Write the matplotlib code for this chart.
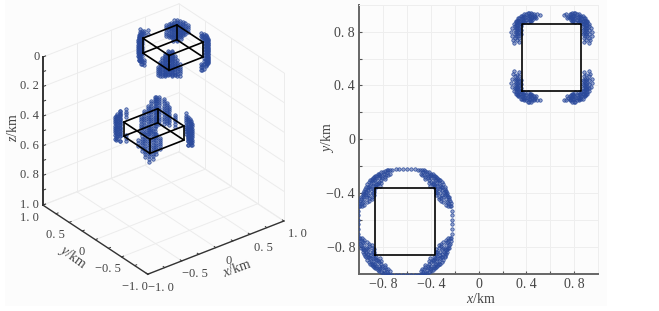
import matplotlib
matplotlib.use("Agg")
import matplotlib.pyplot as plt
from matplotlib.patches import Rectangle
from mpl_toolkits.mplot3d import proj3d

plt.rcParams["font.family"] = ["Liberation Serif", "DejaVu Serif"]
plt.rcParams["mathtext.fontset"] = "custom"
plt.rcParams["mathtext.rm"] = "Liberation Serif"
plt.rcParams["mathtext.it"] = "Liberation Serif:italic"

W, H = 659, 311
BLUE = "#2b4a9b"
FILL = (0.17, 0.29, 0.61, 0.5)
TXT = "#444444"
GRID = "#ececec"

# boxes: x/y ranges in km, z ranges from the left panel
upper_xy = [0.36, 0.86]
lower_xy = [-0.865, -0.365]
upper_z = [0.085, 0.185]
lower_z = [0.145, 0.24]

# left panel clusters, columns of (x, y, [z...])
upper_back = [
    (0.95, 0.77, [0.08, 0.095, 0.11, 0.13]),
    (0.94, 0.80, [0.075, 0.09, 0.105, 0.12, 0.135, 0.15]),
    (0.93, 0.83, [0.07, 0.085, 0.10, 0.115, 0.13, 0.145, 0.16]),
    (0.90, 0.83, [0.09, 0.105, 0.12, 0.135, 0.15, 0.165, 0.18]),
    (0.92, 0.87, [0.07, 0.085, 0.10, 0.115, 0.13, 0.145, 0.16, 0.175]),
    (0.90, 0.90, [0.07, 0.085, 0.10, 0.115, 0.13, 0.145, 0.16, 0.175, 0.19, 0.205]),
    (0.88, 0.88, [0.08, 0.095, 0.11, 0.125, 0.14, 0.155, 0.17, 0.185, 0.20]),
    (0.87, 0.92, [0.07, 0.085, 0.10, 0.115, 0.13, 0.145, 0.16, 0.175, 0.19]),
    (0.83, 0.90, [0.08, 0.095, 0.11, 0.125, 0.14, 0.155, 0.17, 0.185, 0.20]),
    (0.83, 0.93, [0.08, 0.095, 0.11, 0.125, 0.14, 0.155, 0.17, 0.18]),
    (0.80, 0.94, [0.085, 0.10, 0.115, 0.13, 0.145, 0.16, 0.175]),
    (0.77, 0.95, [0.09, 0.105, 0.12, 0.135, 0.15, 0.165]),
]
upper_front = [
    (0.27, 0.45, [0.165, 0.18, 0.195, 0.21, 0.22]),
    (0.28, 0.42, [0.13, 0.145, 0.16, 0.175, 0.19, 0.205, 0.22]),
    (0.29, 0.40, [0.10, 0.115, 0.13, 0.145, 0.16, 0.175, 0.19, 0.205, 0.22]),
    (0.30, 0.36, [0.08, 0.095, 0.11, 0.125, 0.14, 0.155, 0.17, 0.185, 0.20, 0.215]),
    (0.32, 0.38, [0.07, 0.085, 0.10, 0.115, 0.13, 0.145, 0.16, 0.175, 0.19, 0.205, 0.215]),
    (0.32, 0.32, [0.04, 0.055, 0.07, 0.085, 0.10, 0.115, 0.13, 0.145, 0.16, 0.175, 0.19, 0.20]),
    (0.34, 0.34, [0.05, 0.065, 0.08, 0.095, 0.11, 0.125, 0.14, 0.155, 0.17, 0.185, 0.20]),
    (0.36, 0.30, [0.05, 0.065, 0.08, 0.095, 0.11, 0.125, 0.14, 0.155, 0.17, 0.185, 0.20]),
    (0.38, 0.32, [0.05, 0.065, 0.08, 0.095, 0.11, 0.125, 0.14, 0.155, 0.17, 0.185, 0.205, 0.22]),
    (0.40, 0.29, [0.08, 0.095, 0.11, 0.125, 0.14, 0.155, 0.17, 0.185, 0.20, 0.21]),
    (0.42, 0.28, [0.11, 0.125, 0.14, 0.155, 0.17, 0.185, 0.20, 0.215]),
    (0.45, 0.27, [0.14, 0.155, 0.17, 0.185, 0.20, 0.22]),
]
upper_left = [
    (0.32, 0.90, [0.10, 0.115, 0.13, 0.145, 0.16, 0.175, 0.19, 0.205]),
    (0.34, 0.90, [0.08, 0.095, 0.11, 0.125, 0.14, 0.155, 0.17, 0.185, 0.20, 0.215, 0.24]),
    (0.30, 0.85, [0.05, 0.065, 0.08, 0.095, 0.11, 0.125, 0.14, 0.155, 0.17, 0.185, 0.20, 0.22]),
    (0.28, 0.81, [0.035, 0.05, 0.065, 0.08, 0.095, 0.11, 0.125, 0.14, 0.155, 0.17, 0.185, 0.20, 0.215]),
    (0.36, 0.92, [0.04, 0.055, 0.07, 0.085, 0.10, 0.115, 0.13, 0.145, 0.16, 0.175, 0.19, 0.205, 0.22, 0.235, 0.25]),
    (0.40, 0.93, [0.06, 0.075, 0.09, 0.105, 0.12, 0.135, 0.15, 0.165, 0.18, 0.195, 0.21, 0.23, 0.26, 0.285]),
    (0.27, 0.77, [0.01, 0.025, 0.04, 0.06, 0.08, 0.10, 0.15, 0.19, 0.22]),
    (0.45, 0.95, [0.07, 0.085, 0.10, 0.27, 0.285, 0.30]),
    (0.50, 0.94, [0.07, 0.10]),
]
upper_right = [
    (0.90, 0.32, [0.07, 0.085, 0.10, 0.115, 0.13, 0.145, 0.16, 0.175, 0.19, 0.205, 0.215]),
    (0.92, 0.36, [0.06, 0.075, 0.09, 0.105, 0.12, 0.135, 0.15, 0.165, 0.18, 0.195, 0.21, 0.23, 0.245]),
    (0.87, 0.28, [0.045, 0.06, 0.075, 0.09, 0.105, 0.12, 0.135, 0.15, 0.165, 0.18, 0.195, 0.21]),
    (0.94, 0.41, [0.065, 0.08, 0.095, 0.11, 0.125, 0.14, 0.155, 0.17, 0.185, 0.20, 0.215, 0.23, 0.245, 0.265]),
    (0.95, 0.45, [0.065, 0.08, 0.095, 0.11, 0.13, 0.15, 0.17, 0.19, 0.21, 0.23, 0.25, 0.27, 0.30]),
    (0.83, 0.27, [0.02, 0.035, 0.05, 0.07, 0.09, 0.18, 0.20, 0.22]),
    (0.78, 0.27, [0.0, 0.015, 0.03, 0.205, 0.22, 0.235]),
    (0.93, 0.50, [0.065, 0.09, 0.28, 0.30, 0.32]),
]
lower_back = [
    (-0.25, -0.25, [0.11, 0.125, 0.14, 0.155, 0.17, 0.185, 0.20, 0.215, 0.23, 0.245, 0.26, 0.275, 0.295]),
    (-0.28, -0.23, [0.11, 0.125, 0.14, 0.155, 0.17, 0.185, 0.20, 0.215, 0.23, 0.245, 0.26, 0.275, 0.29, 0.31]),
    (-0.30, -0.22, [0.11, 0.125, 0.14, 0.155, 0.17, 0.185, 0.20, 0.215, 0.23, 0.245, 0.26, 0.275, 0.29, 0.305, 0.32, 0.34, 0.36]),
    (-0.22, -0.30, [0.12, 0.135, 0.15, 0.165, 0.18, 0.195, 0.21, 0.225, 0.24, 0.255, 0.27, 0.29]),
    (-0.35, -0.22, [0.13, 0.145, 0.16, 0.175, 0.19, 0.205, 0.22, 0.235, 0.25, 0.265, 0.28, 0.295, 0.31, 0.325, 0.34]),
    (-0.40, -0.23, [0.15, 0.165, 0.18, 0.195, 0.21, 0.225, 0.24, 0.255, 0.27, 0.285, 0.30, 0.315, 0.34]),
    (-0.45, -0.22, [0.18, 0.195, 0.21, 0.225, 0.24, 0.255, 0.27, 0.285, 0.30, 0.33]),
    (-0.50, -0.22, [0.21, 0.225, 0.24, 0.255, 0.27, 0.285, 0.30, 0.32]),
    (-0.22, -0.35, [0.135, 0.15, 0.165, 0.18, 0.195, 0.21, 0.225, 0.24, 0.255, 0.27]),
    (-0.22, -0.40, [0.15, 0.165, 0.18, 0.195, 0.21, 0.225, 0.24, 0.255, 0.27]),
    (-0.22, -0.50, [0.18, 0.195, 0.21, 0.225, 0.24, 0.26]),
]
lower_front = [
    (-0.95, -0.95, [0.045, 0.06, 0.075, 0.09, 0.105, 0.12, 0.135, 0.15, 0.165, 0.18, 0.195, 0.21, 0.225, 0.24, 0.265]),
    (-0.80, -0.97, [0.12, 0.135, 0.15, 0.165, 0.18, 0.20]),
    (-0.85, -0.97, [0.085, 0.10, 0.115, 0.13, 0.145, 0.16, 0.175, 0.19, 0.205, 0.225]),
    (-0.90, -0.97, [0.06, 0.075, 0.09, 0.105, 0.12, 0.135, 0.15, 0.165, 0.18, 0.195, 0.21, 0.225, 0.25]),
    (-0.97, -0.90, [0.07, 0.085, 0.10, 0.115, 0.13, 0.145, 0.16, 0.175, 0.19, 0.205, 0.22, 0.24]),
    (-0.97, -0.85, [0.11, 0.125, 0.14, 0.155, 0.17, 0.185, 0.21]),
    (-0.97, -0.78, [0.15, 0.17, 0.19]),
]
lower_left = [
    (-0.90, -0.25, [0.13, 0.145, 0.16, 0.175, 0.19, 0.205, 0.22, 0.235, 0.25, 0.28]),
    (-0.96, -0.34, [0.09, 0.105, 0.12, 0.135, 0.15, 0.165, 0.18, 0.195, 0.21, 0.225, 0.24, 0.255]),
    (-0.86, -0.24, [0.12, 0.135, 0.15, 0.165, 0.18, 0.195, 0.21, 0.225, 0.24, 0.255, 0.27, 0.29]),
    (-0.82, -0.23, [0.11, 0.125, 0.14, 0.155, 0.17, 0.185, 0.20, 0.215, 0.23, 0.245, 0.26, 0.28, 0.31]),
    (-0.99, -0.45, [0.03, 0.045, 0.06, 0.08, 0.10, 0.12, 0.14, 0.16, 0.18, 0.20, 0.23]),
    (-0.72, -0.22, [0.12, 0.135, 0.15, 0.17, 0.29, 0.31, 0.33]),
]
lower_right = [
    (-0.25, -0.80, [0.12, 0.135, 0.15, 0.165, 0.18, 0.195, 0.21, 0.225, 0.24, 0.255, 0.27, 0.285, 0.31]),
    (-0.22, -0.72, [0.12, 0.135, 0.15, 0.165, 0.18, 0.195, 0.21, 0.225, 0.24, 0.26]),
    (-0.27, -0.86, [0.115, 0.13, 0.145, 0.16, 0.175, 0.19, 0.205, 0.22, 0.235, 0.25, 0.265, 0.28]),
    (-0.30, -0.92, [0.11, 0.125, 0.14, 0.155, 0.17, 0.185, 0.20, 0.215, 0.23, 0.245, 0.26, 0.275]),
    (-0.34, -0.98, [0.11, 0.125, 0.14, 0.155, 0.17, 0.185, 0.20, 0.215, 0.23, 0.25]),
    (-0.40, -0.99, [0.13, 0.145, 0.16, 0.175, 0.19, 0.21, 0.24]),
]
clusters_3d = [upper_back, upper_front, upper_left, upper_right,
               lower_back, lower_front, lower_left, lower_right]

# right panel: one corner as offsets (u, v) from the square's centre, mirrored to all four
upper_centre = (0.61, 0.61)
upper_u = [0.335, 0.34, 0.33, 0.315, 0.30, 0.28, 0.26, 0.23, 0.20, 0.17, 0.15, 0.12, 0.10, 0.314, 0.32,
           0.30, 0.30, 0.30, 0.28, 0.28, 0.28, 0.29, 0.27, 0.27, 0.26, 0.26, 0.26, 0.28, 0.26, 0.24,
           0.22, 0.19, 0.16, 0.24, 0.21, 0.18, 0.15, 0.13, 0.17, 0.20, 0.23, 0.25, 0.31, 0.29, 0.27,
           0.27, 0.27, 0.29, 0.29, 0.29, 0.31, 0.31, 0.31, 0.30, 0.28, 0.26, 0.30, 0.28, 0.27, 0.29,
           0.25, 0.27, 0.25, 0.23, 0.21, 0.19, 0.18, 0.20, 0.22, 0.24, 0.16, 0.15, 0.17, 0.19, 0.14,
           0.16, 0.18]
upper_v = [0.16, 0.19, 0.22, 0.25, 0.27, 0.29, 0.31, 0.32, 0.33, 0.33, 0.32, 0.32, 0.315, 0.104, 0.128,
           0.16, 0.19, 0.22, 0.16, 0.19, 0.22, 0.24, 0.25, 0.14, 0.17, 0.20, 0.23, 0.26, 0.27, 0.28,
           0.30, 0.31, 0.30, 0.30, 0.28, 0.28, 0.29, 0.29, 0.27, 0.26, 0.26, 0.26, 0.14, 0.13, 0.11,
           0.18, 0.21, 0.17, 0.20, 0.22, 0.17, 0.20, 0.23, 0.24, 0.24, 0.25, 0.26, 0.28, 0.27, 0.27,
           0.29, 0.29, 0.31, 0.31, 0.32, 0.33, 0.31, 0.30, 0.28, 0.27, 0.32, 0.31, 0.29, 0.29, 0.30,
           0.28, 0.27]
lower_centre = (-0.616, -0.617)
lower_u = [0.39, 0.39, 0.39, 0.388, 0.385, 0.378, 0.368, 0.353, 0.338, 0.318, 0.29, 0.26, 0.23, 0.20, 0.17,
           0.14, 0.11, 0.08, 0.05, 0.02,
           0.36, 0.34, 0.32, 0.33, 0.31, 0.29, 0.27, 0.25, 0.22, 0.19, 0.16, 0.13,
           0.30, 0.28, 0.27, 0.27, 0.25, 0.23, 0.20, 0.17, 0.26, 0.26, 0.24, 0.21,
           0.35, 0.33, 0.30, 0.28, 0.25, 0.22, 0.20, 0.27,
           0.375, 0.36, 0.35, 0.37, 0.355, 0.34, 0.345, 0.325, 0.33, 0.31, 0.305, 0.285, 0.275, 0.26,
           0.245, 0.24, 0.215, 0.21, 0.185, 0.18, 0.155, 0.15, 0.125, 0.31, 0.29, 0.29, 0.30, 0.265,
           0.235, 0.215, 0.19, 0.165, 0.14, 0.28, 0.34, 0.32, 0.26, 0.24]
lower_v = [0.015, 0.05, 0.085, 0.12, 0.14, 0.16, 0.19, 0.22, 0.25, 0.28, 0.31, 0.335, 0.355, 0.37, 0.38,
           0.387, 0.39, 0.392, 0.393, 0.393,
           0.14, 0.17, 0.19, 0.20, 0.24, 0.27, 0.29, 0.31, 0.33, 0.34, 0.35, 0.36,
           0.16, 0.19, 0.22, 0.25, 0.27, 0.29, 0.31, 0.32, 0.20, 0.24, 0.26, 0.27,
           0.20, 0.23, 0.26, 0.31, 0.34, 0.35, 0.29, 0.33,
           0.12, 0.12, 0.15, 0.17, 0.19, 0.21, 0.235, 0.225, 0.26, 0.26, 0.295, 0.29, 0.32, 0.31,
           0.345, 0.325, 0.36, 0.345, 0.375, 0.355, 0.385, 0.37, 0.39, 0.20, 0.22, 0.245, 0.18, 0.27,
           0.28, 0.30, 0.325, 0.335, 0.35, 0.17, 0.13, 0.15, 0.225, 0.285]
mirrors = [(1, 1), (-1, 1), (1, -1), (-1, -1)]

grid_3d = [-1, -0.5, 0, 0.5, 1]
z_grid = [0, 0.2, 0.4, 0.6, 0.8, 1.0]
z_ticks = [0, 0.1, 0.2, 0.3, 0.4, 0.5, 0.6, 0.7, 0.8, 0.9, 1.0]
xy_minor = [-1, -0.75, -0.5, -0.25, 0, 0.25, 0.5, 0.75, 1]
z_labels = ["0", "0. 2", "0. 4", "0. 6", "0. 8", "1. 0"]
xy_vals = [-1, -0.5, 0, 0.5, 1]
xy_labels = ["\u22121. 0", "\u22120. 5", "0", "0. 5", "1. 0"]
major_2d = [-0.8, -0.4, 0, 0.4, 0.8]
major_2d_labels = ["\u22120. 8", "\u22120. 4", "0", "0. 4", "0. 8"]
minor_2d = [-0.6, -0.2, 0.2, 0.6]


def label3d(ax, x, y, z, text, **kw):
    # plain 2D text placed at the projected 3D position
    px, py, _ = proj3d.proj_transform(x, y, z, ax.get_proj())
    ax.text2D(px, py, text, transform=ax.transData, fontsize=9, color=TXT, **kw)


fig = plt.figure(figsize=(W / 100, H / 100), dpi=100, facecolor="white")
fig.add_artist(Rectangle((5 / W, 5 / H), 602 / W, 306 / H, transform=fig.transFigure,
                         facecolor="#fcfcfc", edgecolor="none", zorder=-5))

# --- left panel ---
ax = fig.add_axes([15 / W, 23.6 / H, 289 / W, 289 / H], projection="3d", computed_zorder=False)
ax.set_proj_type("ortho")
ax.view_init(elev=30.5, azim=-127.6)
ax.set_box_aspect((1, 1, 1))
ax.set_xlim(-1, 1)
ax.set_ylim(-1, 1)
ax.set_zlim(1, 0)
ax.set_axis_off()
ax.patch.set_alpha(0)

for g in grid_3d:
    ax.plot([g, g], [-1, 1], [1, 1], color=GRID, lw=0.7, zorder=1)
    ax.plot([-1, 1], [g, g], [1, 1], color=GRID, lw=0.7, zorder=1)
    ax.plot([g, g], [1, 1], [0, 1], color=GRID, lw=0.7, zorder=1)
    ax.plot([1, 1], [g, g], [0, 1], color=GRID, lw=0.7, zorder=1)
for z in z_grid:
    ax.plot([-1, 1], [1, 1], [z, z], color=GRID, lw=0.7, zorder=1)
    ax.plot([1, 1], [-1, 1], [z, z], color=GRID, lw=0.7, zorder=1)

xs, ys, zs = [], [], []
for cluster in clusters_3d:
    for cx, cy, col in cluster:
        for z in col:
            xs.append(cx)
            ys.append(cy)
            zs.append(z)
ax.scatter(xs, ys, zs, s=6, facecolor=FILL, edgecolor=BLUE, linewidth=0.5, depthshade=False, zorder=3)

for (lo, hi), (z0, z1) in [(upper_xy, upper_z), (lower_xy, lower_z)]:
    for z in (z0, z1):
        ax.plot([lo, hi, hi, lo, lo], [lo, lo, hi, hi, lo], [z] * 5, color="black", lw=1.2, zorder=4)
    for px, py in [(lo, lo), (lo, hi), (hi, lo), (hi, hi)]:
        ax.plot([px, px], [py, py], [z0, z1], color="black", lw=1.2, zorder=4)

ax.plot([-1, -1], [1, 1], [0, 1], color="#333333", lw=1.4, zorder=5)
ax.plot([-1, -1], [-1, 1], [1, 1], color="#333333", lw=1.0, zorder=5)
ax.plot([-1, 1], [-1, -1], [1, 1], color="#333333", lw=1.0, zorder=5)
for z in z_ticks:
    ax.plot([-1, -0.96], [1, 1], [z, z], color="#333333", lw=0.7, zorder=5)
for t in xy_minor:
    ax.plot([-1, -0.97], [t, t], [1, 1], color="#333333", lw=0.7, zorder=5)
    ax.plot([t, t], [-1, -0.97], [1, 1], color="#333333", lw=0.7, zorder=5)

for z, lab in zip(z_grid, z_labels):
    label3d(ax, -1.03, 1.03, z, lab, ha="right", va="center")
for v, lab in zip(xy_vals, xy_labels):
    label3d(ax, -1.11, v + 0.11, 1.09, lab, ha="center", va="center")
    label3d(ax, v + 0.10, -1.12, 1.08, lab, ha="center", va="center")

fig.text(237 / W, 1 - 268 / H, r"$\mathit{x}$/km", rotation=20, ha="center", va="center", fontsize=10, color=TXT)
fig.text(72 / W, 1 - 257 / H, r"$\mathit{y}$/km", rotation=-36, ha="center", va="center", fontsize=10, color=TXT)
fig.text(13 / W, 1 - 128 / H, r"$\mathit{z}$/km", rotation=90, ha="center", va="center", fontsize=10, color=TXT)

# --- right panel ---
ax2 = fig.add_axes([359.2 / W, 1 - 273.6 / H, 239 / W, 268.8 / H])
ax2.patch.set_alpha(0)
ax2.set_xlim(-1, 1)
ax2.set_ylim(-1, 1)
ax2.set_xticks(major_2d, major_2d_labels)
ax2.set_yticks(major_2d, major_2d_labels)
ax2.set_xticks(minor_2d, minor=True)
ax2.set_yticks(minor_2d, minor=True)
ax2.grid(True, which="both", color="#eeeeee", lw=0.7)
ax2.set_axisbelow(True)
ax2.tick_params(which="both", direction="in", length=2.5, width=0.8, color="#555555",
                labelcolor=TXT, labelsize=10, pad=3)
for side in ("top", "right"):
    ax2.spines[side].set_color("#eeeeee")
    ax2.spines[side].set_linewidth(0.7)
for side in ("left", "bottom"):
    ax2.spines[side].set_color("#666666")
    ax2.spines[side].set_linewidth(1.4)
fig.text(481 / W, 1 - 299 / H, r"$\mathit{x}$/km", ha="center", va="center", fontsize=10, color=TXT)
fig.text(328 / W, 1 - 138 / H, r"$\mathit{y}$/km", rotation=90, ha="center", va="center", fontsize=10, color=TXT)

for (cx, cy), us, vs in [(upper_centre, upper_u, upper_v), (lower_centre, lower_u, lower_v)]:
    for mx, my in mirrors:
        ax2.scatter([cx + mx * u for u in us], [cy + my * v for v in vs], s=6,
                    facecolor=FILL, edgecolor=BLUE, linewidth=0.5, zorder=3)
for lo, hi in (upper_xy, lower_xy):
    ax2.plot([lo, hi, hi, lo, lo], [lo, lo, hi, hi, lo], color="black", lw=1.2, zorder=4)

fig.savefig("out.png", dpi=100, facecolor=fig.get_facecolor())
